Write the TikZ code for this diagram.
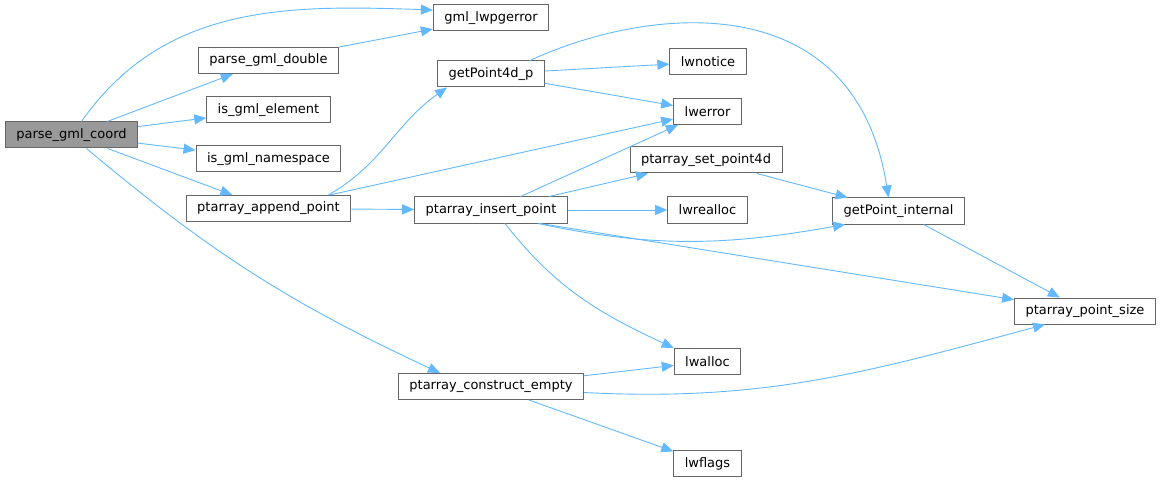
\documentclass[tikz,border=0pt]{standalone}
\usepackage{fontspec}
\setmainfont{DejaVu Sans}
\usetikzlibrary{arrows.meta}
\definecolor{edgeblue}{HTML}{63B8FF}
\definecolor{boxgray}{HTML}{666666}
\definecolor{rootgray}{HTML}{999999}
\tikzset{
  fn/.style={draw=boxgray, fill=white, line width=1pt, minimum height=26pt,
    inner xsep=11pt, inner ysep=0pt, font=\fontsize{13}{15}\selectfont},
  root/.style={fn, fill=rootgray},
  call/.style={draw=edgeblue, line width=0.9pt, -{Triangle[length=12pt,width=10pt]}}
}
\begin{document}
\begin{tikzpicture}[x=1pt,y=1pt]
\useasboundingbox (0,0) rectangle (1161,-481);
\node[root] (coord) at (71.5,-135) {parse\_gml\_coord};
\node[fn] (lwpgerror) at (491,-18) {gml\_lwpgerror};
\node[fn] (double) at (268.5,-60.5) {parse\_gml\_double};
\node[fn] (element) at (268.5,-110) {is\_gml\_element};
\node[fn] (namespace) at (268.5,-159) {is\_gml\_namespace};
\node[fn] (append) at (268.5,-208.5) {ptarray\_append\_point};
\node[fn] (getpt4d) at (491,-74) {getPoint4d\_p};
\node[fn] (insert) at (491,-210) {ptarray\_insert\_point};
\node[fn] (construct) at (491,-386.5) {ptarray\_construct\_empty};
\node[fn] (lwnotice) at (708,-62) {lwnotice};
\node[fn] (lwerror) at (707.5,-111.5) {lwerror};
\node[fn] (setpt4d) at (706,-160) {ptarray\_set\_point4d};
\node[fn] (lwrealloc) at (707.5,-210) {lwrealloc};
\node[fn] (lwalloc) at (707.5,-361.5) {lwalloc};
\node[fn] (lwflags) at (707.5,-463.5) {lwflags};
\node[fn] (getptint) at (898.5,-211) {getPoint\_internal};
\node[fn] (ptsize) at (1085,-311) {ptarray\_point\_size};
\draw[call] ([xshift=10pt]coord.north) to[out=55,in=178] ([yshift=8pt]lwpgerror.west);
\draw[call] (coord) -- (double);
\draw[call] (coord) -- (element);
\draw[call] (coord) -- (namespace);
\draw[call] (coord) -- (append);
\draw[call] ([xshift=15pt]coord.south) to[out=-40,in=155] ([xshift=-51pt]construct.north);
\draw[call] (double) -- (lwpgerror);
\draw[call] ([xshift=60pt]append.north) to[out=30,in=215] ([xshift=10pt]getpt4d.south west);
\draw[call] (append) -- (lwerror);
\draw[call] (append) -- (insert);
\draw[call] ([xshift=39pt]getpt4d.north) .. controls (650,-5) and (855,15) .. ([xshift=-10pt]getptint.north);
\draw[call] (getpt4d) -- (lwnotice);
\draw[call] (getpt4d) -- (lwerror);
\draw[call] (insert) -- (lwerror);
\draw[call] (insert) -- (setpt4d);
\draw[call] (insert) -- (lwrealloc);
\draw[call] ([xshift=47pt]insert.south) to[out=-12,in=190] ([xshift=13pt]getptint.south west);
\draw[call] ([xshift=49pt]insert.south) -- (ptsize);
\draw[call] ([xshift=14pt]insert.south) to[out=-52,in=155] (lwalloc.north west);
\draw[call] (setpt4d) -- (getptint);
\draw[call] (getptint) -- (ptsize);
\draw[call] (construct) -- (lwalloc);
\draw[call] ([yshift=-6pt]construct.east) to[out=-3,in=195] ([xshift=-40pt]ptsize.south);
\draw[call] (construct) -- (lwflags);
\end{tikzpicture}
\end{document}
